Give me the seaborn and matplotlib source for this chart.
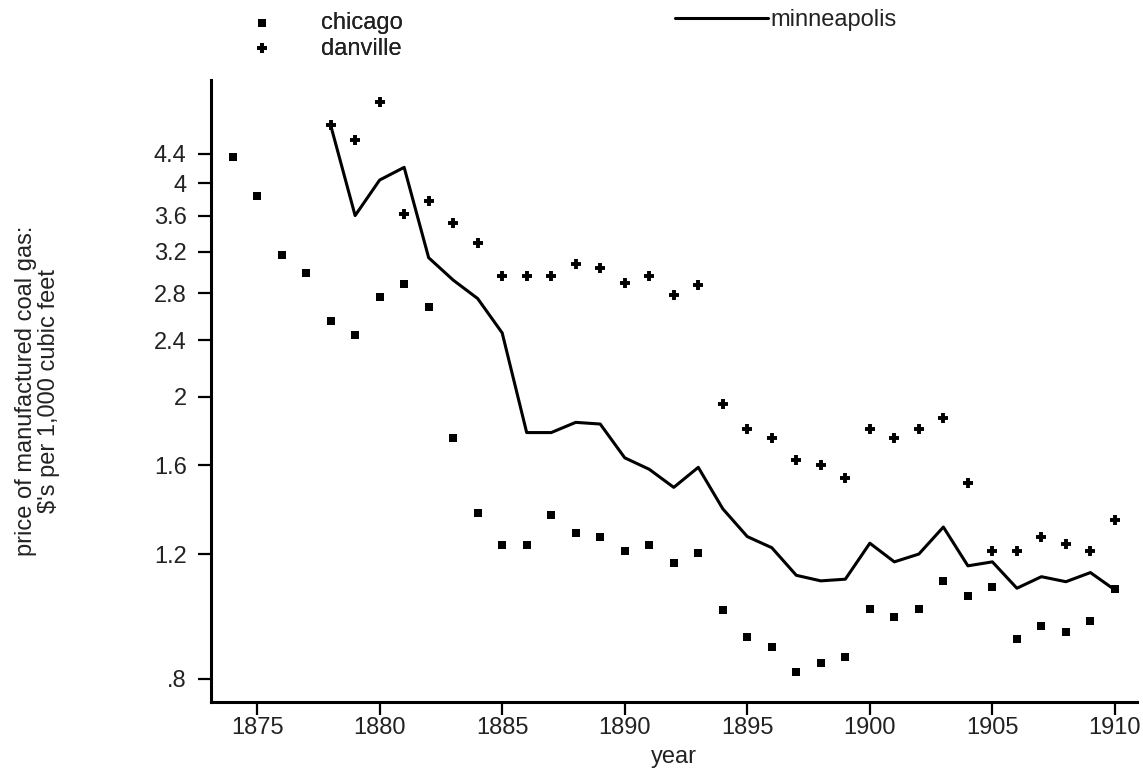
import numpy as np
import matplotlib
matplotlib.use("Agg")
import matplotlib.pyplot as plt
import seaborn as sns
from matplotlib.ticker import FixedLocator, NullLocator, FixedFormatter

# Data ($ per 1,000 cubic feet)
chicago_years = list(range(1874, 1911))
chicago = [4.36, 3.83, 3.17, 2.99, 2.56, 2.44, 2.76, 2.88, 2.68, 1.75,
           1.37, 1.235, 1.235, 1.36, 1.284, 1.269, 1.211, 1.235, 1.166, 1.204,
           1.001, 0.916, 0.887, 0.818, 0.842, 0.858, 1.003, 0.977, 1.003, 1.099,
           1.048, 1.077, 0.910, 0.951, 0.933, 0.966, 1.070]

danville_years = list(range(1878, 1911))
danville = [4.83, 4.60, 5.21, 3.62, 3.77, 3.51, 3.29, 2.96, 2.96, 2.96,
            3.08, 3.04, 2.89, 2.96, 2.78, 2.87, 1.95, 1.80, 1.75, 1.63,
            1.60, 1.535, 1.80, 1.75, 1.80, 1.865, 1.51, 1.21, 1.21, 1.27,
            1.24, 1.21, 1.34]

minneapolis_years = list(range(1878, 1911))
minneapolis = [4.83, 3.60, 4.04, 4.21, 3.14, 2.92, 2.75, 2.46, 1.78, 1.78,
               1.84, 1.83, 1.64, 1.58, 1.49, 1.59, 1.39, 1.27, 1.225, 1.12,
               1.10, 1.106, 1.243, 1.17, 1.20, 1.31, 1.155, 1.17, 1.074, 1.115,
               1.097, 1.13, 1.068]

y_ticks = [0.8, 1.2, 1.6, 2.0, 2.4, 2.8, 3.2, 3.6, 4.0, 4.4]
y_tick_labels = [".8", "1.2", "1.6", "2", "2.4", "2.8", "3.2", "3.6", "4", "4.4"]
x_ticks = [1875, 1880, 1885, 1890, 1895, 1900, 1905, 1910]

sns.set_style("ticks")
plt.rcParams["font.family"] = ["Liberation Sans", "DejaVu Sans"]
FS = 17
TXT = "#222222"

W, H = 1143, 772
fig = plt.figure(figsize=(W / 100, H / 100), dpi=100)
ax = fig.add_axes([211 / W, 1 - 702 / H, (1137 - 211) / W, (702 - 80) / H])

sns.scatterplot(x=chicago_years, y=chicago, marker="s", s=28, color="black",
                linewidth=0, ax=ax, label="chicago")
sns.scatterplot(x=danville_years, y=danville, marker="+", s=48, color="black",
                linewidth=2.8, ax=ax, label="danville")
sns.lineplot(x=minneapolis_years, y=minneapolis, color="black", linewidth=2.2,
             ax=ax, label="minneapolis")

handles, labels = ax.get_legend_handles_labels()
if ax.get_legend() is not None:
    ax.get_legend().remove()

ax.set_yscale("log")
ax.set_xlim(1873.12, 1910.9)
ax.set_ylim(0.7424, 5.59)
ax.yaxis.set_major_locator(FixedLocator(y_ticks))
ax.yaxis.set_major_formatter(FixedFormatter(y_tick_labels))
ax.yaxis.set_minor_locator(NullLocator())
ax.set_xticks(x_ticks)
ax.set_xticklabels([str(t) for t in x_ticks])

sns.despine(ax=ax)
for side in ["left", "bottom"]:
    ax.spines[side].set_linewidth(2.2)
    ax.spines[side].set_color("black")
ax.tick_params(axis="both", length=9.5, width=1.6, color="black",
               labelsize=FS, labelcolor=TXT)
ax.tick_params(axis="y", pad=8)
ax.tick_params(axis="x", pad=1)

ax.set_xlabel("year", fontsize=FS, color=TXT, labelpad=5)
ax.set_ylabel("price of manufactured coal gas:\n$'s per 1,000 cubic feet",
              fontsize=FS, color=TXT, linespacing=1.05)
ax.yaxis.set_label_coords(-0.163, 0.5)

# legends: scatter entries on the left, line entry on the right
hd = dict(zip(labels, handles))
leg1 = fig.legend([hd["chicago"], hd["danville"]], ["chicago", "danville"],
                  loc="upper left", bbox_to_anchor=(250 / W, 1 - 12 / H),
                  frameon=False, fontsize=FS, handlelength=1.0,
                  handletextpad=2.0, borderpad=0, borderaxespad=0,
                  labelspacing=0.15, labelcolor=TXT)
fig.add_artist(leg1)
fig.legend([hd["minneapolis"]], ["minneapolis"], loc="upper left",
           bbox_to_anchor=(675 / W, 1 - 9 / H), frameon=False, fontsize=FS,
           handlelength=3.95, handletextpad=0.1, borderpad=0, borderaxespad=0,
           labelcolor=TXT)

fig.savefig("out.png", dpi=100, facecolor="white")
